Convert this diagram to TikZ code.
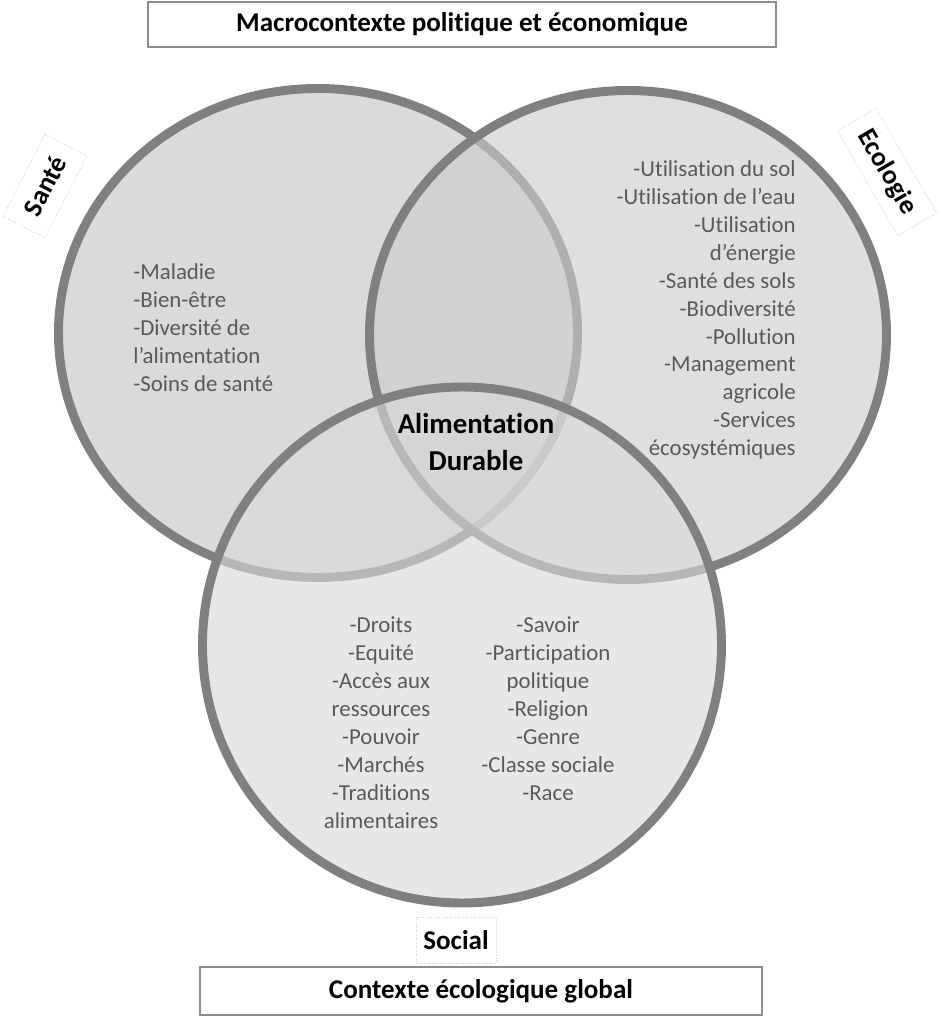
\documentclass[tikz,border=0pt]{standalone}
\usepackage{fontspec}
\setmainfont{Carlito}[Ligatures=NoCommon]
\usepackage{xcolor}
\usepackage{tikz}
\definecolor{ringgray}{gray}{0.5}
\definecolor{santefill}{gray}{0.765}
\definecolor{ecofill}{gray}{0.80}
\definecolor{socfill}{gray}{0.851}
\definecolor{listgray}{gray}{0.35}
\definecolor{boxgray}{gray}{0.55}
\definecolor{tagline}{gray}{0.82}

\begin{document}
\begin{tikzpicture}[
	ring/.style={draw=ringgray,line width=5.1pt,fill opacity=0.62},
	listtext/.style={text=listgray,font=\fontsize{13}{15.9}\selectfont,inner sep=0pt},
	headbox/.style={draw=boxgray,line width=0.8pt,fill=white,font=\fontsize{15.4}{18}\selectfont\bfseries,inner sep=0pt},
	tagbox/.style={draw=tagline,densely dotted,line width=0.5pt,fill=white,font=\fontsize{15.4}{18}\selectfont\bfseries,minimum height=0.92cm,inner sep=0pt}]
		\useasboundingbox (0,0) rectangle (18.82,20.48);
		% the three rings
		\draw[ring,fill=santefill] (6.36,13.82) ellipse (5.19 and 4.89);
		\draw[ring,fill=ecofill] (12.56,13.78) ellipse (5.17 and 4.89);
		\draw[ring,fill=socfill] (9.24,7.58) ellipse (5.19 and 5.16);
		
		\node[headbox,minimum width=12.56cm,minimum height=0.9cm] (macro) at (9.24,19.99) {Macrocontexte politique et économique};
		\node[headbox,minimum width=11.24cm,minimum height=0.96cm] (global) at (9.62,0.66) {Contexte écologique global};
		\node[tagbox,minimum width=1.6cm] (social) at (9.12,1.68) {Social};
		\node[tagbox,minimum width=1.84cm,minimum height=0.94cm,rotate=63] (sante) at (0.9,16.76) {Santé};
		\node[tagbox,minimum width=2.42cm,minimum height=0.9cm,rotate=-60] (ecologie) at (17.74,17.04) {Ecologie};
		
		\node[font=\fontsize{16.4}{21}\selectfont\bfseries,align=center] (durable) at (9.52,11.64) {Alimentation\\Durable};
		
		\node[listtext,anchor=west,align=left] (santelist) at (2.66,13.92) {-Maladie\\-Bien-être\\-Diversité de\\l’alimentation\\-Soins de santé};
		\node[listtext,anchor=east,align=right] (ecolist) at (15.92,14.28) {-Utilisation du sol\\-Utilisation de l’eau\\-Utilisation\\d’énergie\\-Santé des sols\\-Biodiversité\\-Pollution\\-Management\\agricole\\-Services\\écosystémiques};
		\node[listtext,align=center] (soclistA) at (7.62,6.02) {-Droits\\-Equité\\-Accès aux\\ressources\\-Pouvoir\\-Marchés\\-Traditions\\alimentaires};
		\node[listtext,align=center] (soclistB) at (10.96,6.30) {-Savoir\\-Participation\\politique\\-Religion\\-Genre\\-Classe sociale\\-Race};
	\end{tikzpicture}
\end{document}
